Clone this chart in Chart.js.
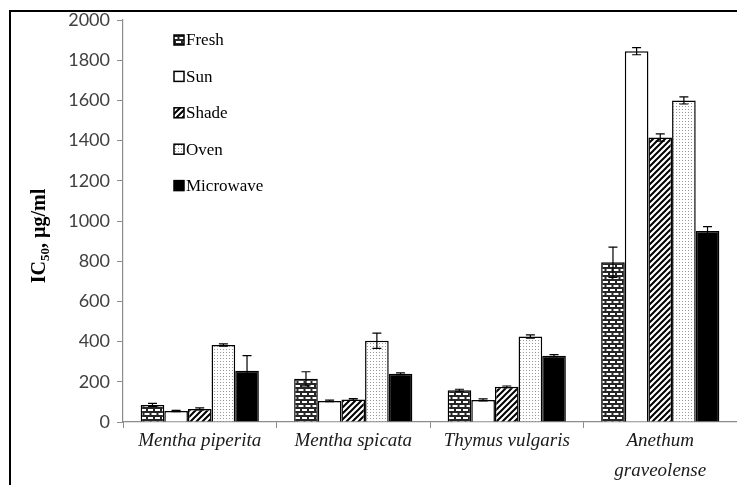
<!DOCTYPE html>
<html>
<head>
<meta charset="utf-8">
<script src="https://cdn.jsdelivr.net/npm/chart.js@4"></script>
<style>
  body { margin: 0; background: #fff; }
  canvas { display: block; }
</style>
</head>
<body>
<canvas id="chart" width="737" height="485"></canvas>
<script>
var categories = ["Mentha piperita", "Mentha spicata", "Thymus vulgaris", ["Anethum", "graveolense"]];
var seriesNames = ["Fresh", "Sun", "Shade", "Oven", "Microwave"];

var fresh = [85, 215, 158, 795];
var sun = [55, 105, 110, 1845];
var shade = [65, 112, 175, 1415];
var oven = [383, 404, 425, 1600];
var microwave = [255, 240, 330, 950];

var freshErr = [8, 35, 5, 75];
var sunErr = [3, 4, 5, 18];
var shadeErr = [5, 4, 4, 18];
var ovenErr = [6, 38, 8, 18];
var microwaveErr = [75, 4, 5, 22];

var yTicks = [0, 200, 400, 600, 800, 1000, 1200, 1400, 1600, 1800, 2000];

// fill patterns like the old excel ones
function makeTile(w, h, draw) {
    var c = document.createElement("canvas");
    c.width = w;
    c.height = h;
    var g = c.getContext("2d");
    draw(g, w, h);
    return document.createElement("canvas").getContext("2d").createPattern(c, "repeat");
}

var brick = makeTile(7, 8, function(g) {
    g.fillStyle = "#262626";
    g.fillRect(0, 0, 7, 8);
    g.fillStyle = "#fff";
    g.fillRect(1, 1, 5, 2);
    g.fillRect(-2.5, 5, 5, 2);
    g.fillRect(4.5, 5, 5, 2);
});

var stripes = makeTile(6, 6, function(g) {
    g.fillStyle = "#fff";
    g.fillRect(0, 0, 6, 6);
    g.strokeStyle = "#000";
    g.lineWidth = 2;
    g.beginPath();
    g.moveTo(-1, 7); g.lineTo(7, -1);
    g.moveTo(-4, 4); g.lineTo(4, -4);
    g.moveTo(2, 10); g.lineTo(10, 2);
    g.stroke();
});

var dots = makeTile(3, 3, function(g) {
    g.fillStyle = "#fff";
    g.fillRect(0, 0, 3, 3);
    g.fillStyle = "#9a9a9a";
    g.fillRect(1, 1, 1, 1);
});

var fills = [brick, "#ffffff", stripes, dots, "#000000"];
var values = [fresh, sun, shade, oven, microwave];
var errors = [freshErr, sunErr, shadeErr, ovenErr, microwaveErr];

var errorBars = {
    id: "errorBars",
    afterDatasetsDraw: function(chart) {
        var ctx = chart.ctx;
        var y = chart.scales.y;
        ctx.save();
        ctx.strokeStyle = "#000";
        ctx.lineWidth = 1.2;
        chart.data.datasets.forEach(function(ds, i) {
            var meta = chart.getDatasetMeta(i);
            meta.data.forEach(function(bar, j) {
                var v = ds.data[j], e = errors[i][j];
                var top = y.getPixelForValue(v + e);
                var bot = y.getPixelForValue(v - e);
                ctx.beginPath();
                ctx.moveTo(bar.x, top); ctx.lineTo(bar.x, bot);
                ctx.moveTo(bar.x - 4.5, top); ctx.lineTo(bar.x + 4.5, top);
                ctx.moveTo(bar.x - 4.5, bot); ctx.lineTo(bar.x + 4.5, bot);
                ctx.stroke();
            });
        });
        ctx.restore();
    }
};

var extras = {
    id: "extras",
    afterDraw: function(chart) {
        var ctx = chart.ctx;
        ctx.save();

        // frame
        ctx.strokeStyle = "#000";
        ctx.lineWidth = 2;
        ctx.beginPath();
        ctx.moveTo(10, 485); ctx.lineTo(10, 11); ctx.lineTo(737, 11);
        ctx.stroke();

        // legend
        ctx.font = "17px 'Liberation Serif'";
        ctx.textBaseline = "middle";
        for (var i = 0; i < seriesNames.length; i++) {
            var ly = 40 + i * 36.4;
            ctx.fillStyle = fills[i];
            ctx.fillRect(174, ly - 5, 10, 10);
            ctx.strokeStyle = "#000";
            ctx.lineWidth = 1.5;
            ctx.strokeRect(174, ly - 5, 10, 10);
            ctx.fillStyle = "#000";
            ctx.fillText(seriesNames[i], 186, ly + 1);
        }

        // y axis title with subscript
        ctx.translate(38, 236);
        ctx.rotate(-Math.PI / 2);
        var big = "bold 20px 'Liberation Serif'";
        var small = "bold 13px 'Liberation Serif'";
        ctx.font = big;
        var w1 = ctx.measureText("IC").width;
        var w3 = ctx.measureText(", \u00b5g/ml").width;
        ctx.font = small;
        var w2 = ctx.measureText("50").width;
        var x0 = -(w1 + w2 + w3) / 2;
        ctx.textBaseline = "alphabetic";
        ctx.fillStyle = "#000";
        ctx.font = big;
        ctx.fillText("IC", x0, 7);
        ctx.font = small;
        ctx.fillText("50", x0 + w1, 11);
        ctx.font = big;
        ctx.fillText(", \u00b5g/ml", x0 + w1 + w2, 7);

        ctx.restore();
    }
};

var datasets = seriesNames.map(function(name, i) {
    return {
        label: name,
        data: values[i],
        backgroundColor: fills[i],
        borderColor: "#000",
        borderWidth: 1.5,
        borderSkipped: "bottom"
    };
});

new Chart(document.getElementById("chart").getContext("2d"), {
    type: "bar",
    data: { labels: categories, datasets: datasets },
    plugins: [errorBars, extras],
    options: {
        responsive: false,
        animation: false,
        devicePixelRatio: 1,
        layout: { padding: { top: 20, right: 0, left: 0, bottom: 0 } },
        datasets: { bar: { categoryPercentage: 0.77, barPercentage: 1 } },
        scales: {
            x: {
                grid: { drawOnChartArea: false, color: "#8c8c8c", tickLength: 6, offset: true },
                border: { color: "#8c8c8c", width: 1.2 },
                ticks: {
                    color: "#1a1a1a",
                    padding: -2,
                    maxRotation: 0,
                    autoSkip: false,
                    font: { family: "'Liberation Serif'", style: "italic", size: 19, lineHeight: "30px" }
                },
                afterFit: function(scale) { scale.height = 63; }
            },
            y: {
                min: 0,
                max: 2000,
                afterBuildTicks: function(scale) {
                    scale.ticks = yTicks.map(function(v) { return { value: v }; });
                },
                grid: { drawOnChartArea: false, color: "#8c8c8c", tickLength: 6 },
                border: { color: "#8c8c8c", width: 1.2 },
                ticks: {
                    color: "#404040",
                    padding: 7,
                    font: { family: "Lato", size: 18 },
                    callback: function(value) { return String(value); }
                },
                afterFit: function(scale) { scale.width = 123; }
            }
        },
        plugins: {
            legend: { display: false },
            tooltip: { enabled: false }
        }
    }
});
</script>
</body>
</html>
